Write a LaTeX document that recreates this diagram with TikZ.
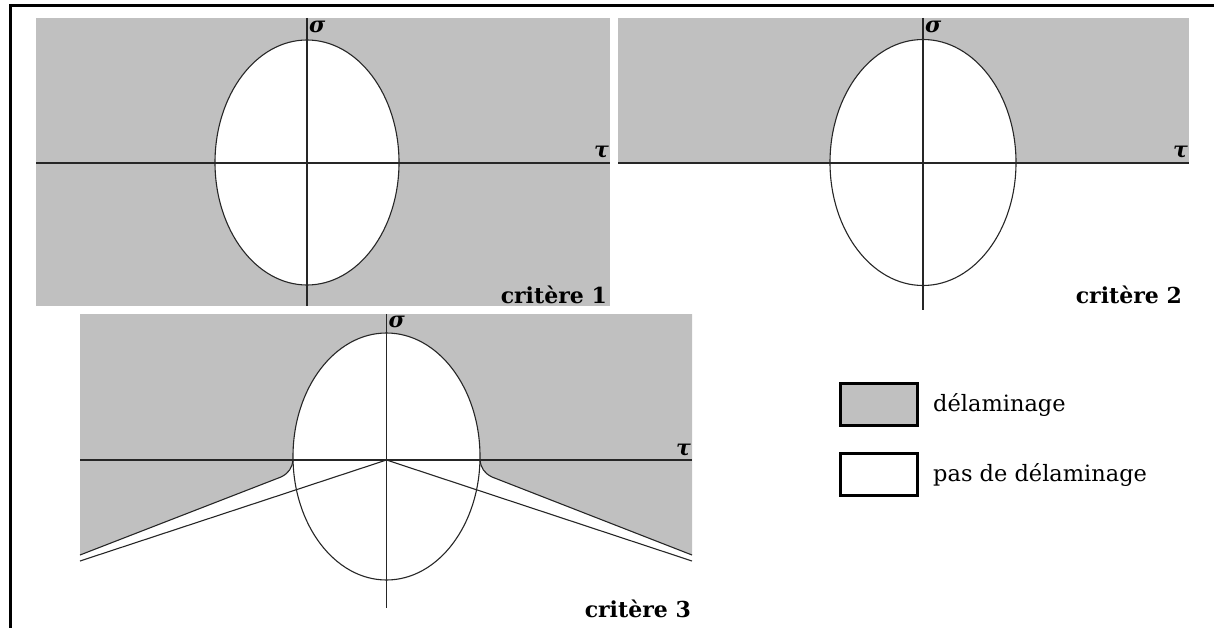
\documentclass[tikz,border=0pt]{standalone}
\usepackage{fontspec}
\setmainfont{DejaVu Serif}
\usepackage{tikz}
\usetikzlibrary{positioning}
\definecolor{delamgray}{HTML}{C0C0C0}

\begin{document}
\begin{tikzpicture}[x=1pt, y=-1pt,
    axisline/.style={line width=1.5pt, black!85},
    bound/.style={line width=1.1pt, black!85},
    axislabel/.style={inner sep=0pt, font=\fontsize{22}{24}\selectfont\bfseries\itshape},
    critlabel/.style={inner sep=0pt, anchor=base east, font=\fontsize{22}{26}\selectfont\bfseries},
    legendbox/.style={draw, line width=3pt, minimum width=77pt, minimum height=42pt, inner sep=0pt},
    legendtext/.style={inner sep=0pt, font=\fontsize{22.5}{26}\selectfont}]
  \useasboundingbox (0,0) rectangle (1214,628);

  % --- Frame ---
  \draw[line width=3pt] (1214,5.5) -- (10,5.5) -- (10,628);

  % --- Critere 1 (shaded above and below) ---
  \fill[delamgray] (36,18) rectangle (610,306);
  \draw[bound, fill=white] (307,162.5) ellipse [x radius=92, y radius=122.5];
  \draw[axisline] (36,163) -- (610,163);
  \draw[axisline] (307,18) -- (307,306);
  \node[axislabel, anchor=west] (sigA) at (309,27) {σ};
  \node[axislabel, anchor=east] (tauA) at (609,152) {τ};
  \node[critlabel] (critA) at (607,303) {critère 1};

  % --- Critere 2 (shaded above only) ---
  \fill[delamgray] (618,18) rectangle (1189,163);
  \draw[bound, fill=white] (923,162.5) ellipse [x radius=93, y radius=123];
  \draw[axisline] (618,163) -- (1189,163);
  \draw[axisline] (923,18) -- (923,310);
  \node[axislabel, anchor=west] (sigB) at (925,27) {σ};
  \node[axislabel, anchor=east] (tauB) at (1188,152) {τ};
  \node[critlabel] (critB) at (1182,303) {critère 2};

  % --- Critere 3 (shaded above the two branches) ---
  \fill[delamgray] (80,314) -- (692,314) -- (692,555) -- (492,477)
    .. controls (484,473) and (481,468) .. (480,460) -- (293,460)
    .. controls (292,468) and (289,473) .. (281,477) -- (80,555) -- cycle;
  \draw[bound, fill=white] (386.5,456.5) ellipse [x radius=93.5, y radius=123.5];
  \draw[bound] (80,555) -- (281,477) .. controls (289,473) and (292,468) .. (293,460);
  \draw[bound] (692,555) -- (492,477) .. controls (484,473) and (481,468) .. (480,460);
  \draw[bound] (80,561) -- (386.5,460) -- (692,561);
  \draw[axisline] (80,460) -- (692,460);
  \draw[axisline] (386.5,314) -- (386.5,608);
  \node[axislabel, anchor=west] (sigC) at (388.5,322) {σ};
  \node[axislabel, anchor=east] (tauC) at (691,450) {τ};
  \node[critlabel] (critC) at (691,617) {critère 3};

  % --- Legend ---
  \node[legendbox, fill=delamgray] (boxdelam) at (879,404.5) {};
  \node[legendbox, fill=white] (boxpas) at (879,474.5) {};
  \node[legendtext, anchor=west, right=14pt of boxdelam] (txtdelam) {délaminage};
  \node[legendtext, anchor=west, right=14pt of boxpas] (txtpas) {pas de délaminage};
\end{tikzpicture}
\end{document}
